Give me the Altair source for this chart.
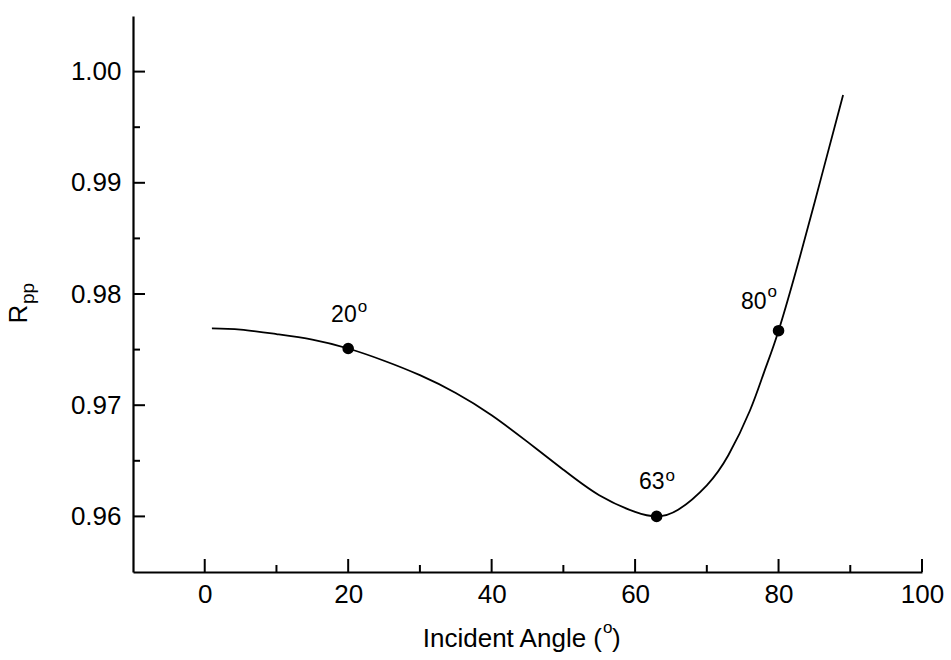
import altair as alt
import pandas as pd

FONT = "Liberation Sans"
W, H = 789, 556

# Reflectance Rpp along the incident angle sweep
angle = [1, 5, 10, 15, 20, 25, 30, 35, 40, 45, 50, 55, 60, 63, 66, 70, 73, 76, 78, 80, 83, 86, 89]
rpp = [0.9769, 0.9768, 0.9764, 0.9759, 0.9751, 0.9740, 0.9727, 0.9711, 0.9691, 0.9667,
       0.9642, 0.9619, 0.9604, 0.9600, 0.9606, 0.9628, 0.9655, 0.9695, 0.9730, 0.9767,
       0.9834, 0.9906, 0.9979]

# Highlighted angles
mark_angle = [20, 63, 80]
mark_rpp = [0.9751, 0.9600, 0.9767]
mark_label = ["20", "63", "80"]

# Axis ticks
x_major = [0, 20, 40, 60, 80, 100]
x_minor = [10, 30, 50, 70, 90]
y_major = [0.96, 0.97, 0.98, 0.99, 1.00]
y_minor = [0.965, 0.975, 0.985, 0.995]

curve = pd.DataFrame({"x": angle, "y": rpp})
marks = pd.DataFrame({"x": mark_angle, "y": mark_rpp, "label": mark_label})

xs = alt.Scale(domain=[-10, 100], nice=False, zero=False)
ys = alt.Scale(domain=[0.955, 1.005], nice=False, zero=False)

x_axis = alt.Axis(values=x_major, title=None, ticks=False, tickSize=0, grid=False,
                  domainColor="black", domainWidth=2.2, labelFont=FONT, labelFontSize=26,
                  labelColor="black", labelPadding=9, labelFlush=False,
                  labelOverlap=False, format="d")
y_axis = alt.Axis(values=y_major, title=None, ticks=False, tickSize=0, grid=False,
                  domainColor="black", domainWidth=2.2, labelFont=FONT, labelFontSize=26,
                  labelColor="black", labelPadding=12, labelFlush=False,
                  labelOverlap=False, format=".2f")


def X():
    return alt.X("x:Q", scale=xs, axis=x_axis)


def Y():
    return alt.Y("y:Q", scale=ys, axis=y_axis)


line = alt.Chart(curve).mark_line(color="black", strokeWidth=1.8, interpolate="natural").encode(
    x=X(), y=Y())

dots = alt.Chart(marks).mark_circle(size=135, color="black", opacity=1).encode(x=X(), y=Y())

# inward tick marks
xt_major = alt.Chart(pd.DataFrame({"x": x_major})).mark_rule(color="black", strokeWidth=2).encode(
    x=X(), y=alt.value(H), y2=alt.value(H - 13))
xt_minor = alt.Chart(pd.DataFrame({"x": x_minor})).mark_rule(color="black", strokeWidth=2).encode(
    x=X(), y=alt.value(H), y2=alt.value(H - 7))
yt_major = alt.Chart(pd.DataFrame({"y": y_major})).mark_rule(color="black", strokeWidth=2).encode(
    y=Y(), x=alt.value(0), x2=alt.value(12))
yt_minor = alt.Chart(pd.DataFrame({"y": y_minor})).mark_rule(color="black", strokeWidth=2).encode(
    y=Y(), x=alt.value(0), x2=alt.value(7))

# angle labels with superscript degree "o"
label_layers = []
offsets = {"20": (8.5, -26, 9.5, -36), "63": (8, -27, 9, -35), "80": (-12, -22, -11, -34)}
for i, lab in enumerate(mark_label):
    dxn, dyn, dxo, dyo = offsets[lab]
    sub = marks.iloc[[i]]
    label_layers.append(
        alt.Chart(sub).mark_text(align="right", baseline="alphabetic", dx=dxn, dy=dyn,
                                 font=FONT, fontSize=23, color="black").encode(
            x=X(), y=Y(), text="label:N"))
    label_layers.append(
        alt.Chart(sub).mark_text(align="left", baseline="alphabetic", dx=dxo, dy=dyo,
                                 font=FONT, fontSize=17, color="black", text="o").encode(
            x=X(), y=Y()))


def free_text(txt, x, y, size, align="left", angle=0):
    kw = dict(align=align, baseline="alphabetic", font=FONT, fontSize=size, color="black")
    if angle:
        kw["angle"] = angle
    return alt.Chart(pd.DataFrame({"t": [txt]})).mark_text(**kw).encode(
        x=alt.value(x), y=alt.value(y), text="t:N")


# x-axis title: Incident Angle (°)
title_parts = [
    free_text("Incident Angle (", 469, 631, 26, align="right"),
    free_text("o", 470, 617, 17),
    free_text(")", 479, 631, 26),
]
# y-axis title: R with subscript pp
ytitle_parts = [
    free_text("R", -106, 298, 26, align="center", angle=270),
    free_text("pp", -99, 288, 19, align="left", angle=270),
]

chart = alt.layer(
    line, dots, xt_major, xt_minor, yt_major, yt_minor,
    *label_layers, *title_parts, *ytitle_parts
).properties(
    width=W, height=H,
    padding={"left": 133, "top": 16, "right": 29, "bottom": 88},
    autosize=alt.AutoSizeParams(type="none"),
    background="white",
).configure_view(stroke=None)

chart.save("out.html", embed_options={"renderer": "svg", "actions": False})
